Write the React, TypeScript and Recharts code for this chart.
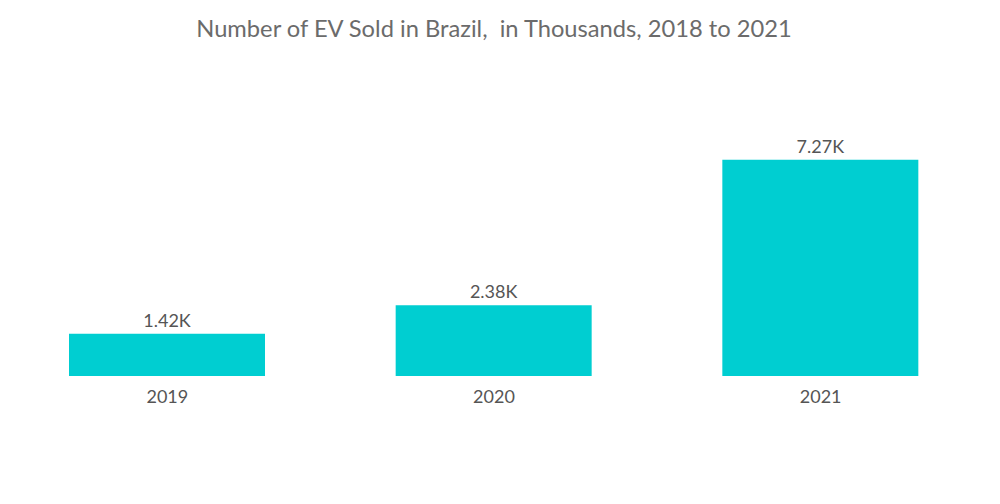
import { BarChart, Bar, XAxis, YAxis, LabelList } from "recharts";

const years = ["2019", "2020", "2021"];
const evSold = [1.42, 2.38, 7.27];

const data = years.map((year, i) => ({ year, sold: evSold[i] }));

export default function App() {
  return (
    <div style={{ position: "relative", width: 1000, height: 504, background: "#fff", fontFamily: "Lato, sans-serif" }}>
      <style>{`body{margin:0}`}</style>
      <div style={{ position: "absolute", top: 14, left: 0, width: 988, textAlign: "center", fontSize: 23.7, color: "#6b6b6b" }}>
        Number of EV Sold in Brazil,&nbsp; in Thousands, 2018 to 2021
      </div>
      <BarChart width={1000} height={504} data={data} margin={{ top: 138, right: 16, left: 4, bottom: 98 }}>
        <XAxis dataKey="year" axisLine={false} tickLine={false} tickSize={0} tickMargin={14}
          tick={{ fontSize: 18, fill: "#555", fontFamily: "Lato, sans-serif" }} />
        <YAxis hide domain={[0, 8]} />
        <Bar dataKey="sold" fill="#00ced1" barSize={196} isAnimationActive={false}>
          <LabelList dataKey="sold" position="top" offset={7} formatter={(v: any) => `${v}K`}
            style={{ fontSize: 18, fill: "#555", fontFamily: "Lato, sans-serif" }} />
        </Bar>
      </BarChart>
    </div>
  );
}
